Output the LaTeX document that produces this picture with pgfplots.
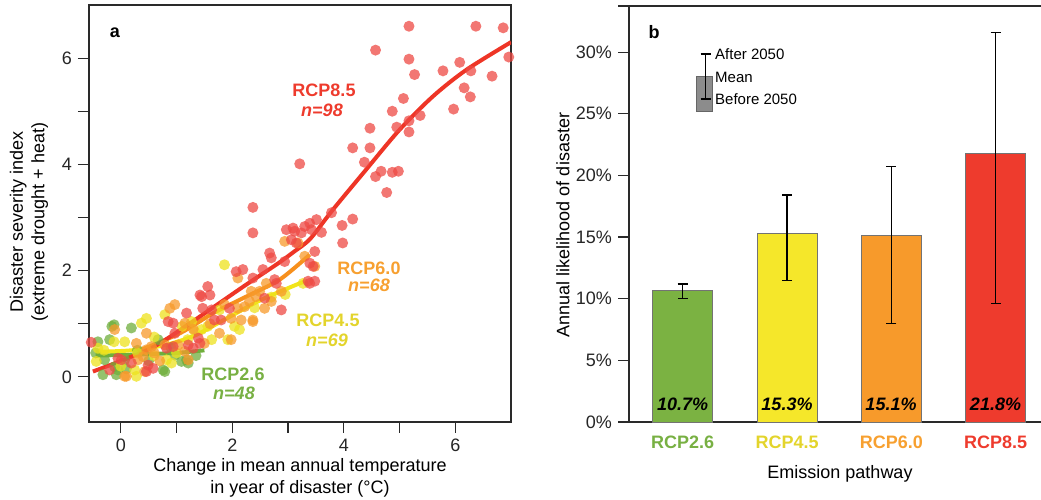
\documentclass[border=0pt]{standalone}
\usepackage{pgfplots}
\pgfplotsset{compat=1.18}
\usepackage{fontspec}
\setmainfont{Liberation Sans}
\definecolor{axc}{HTML}{2A2A2A}
\definecolor{bgreen}{HTML}{7BB242}
\definecolor{byellow}{HTML}{F5E72A}
\definecolor{borange}{HTML}{F79A2B}
\definecolor{bred}{HTML}{EE3B2D}
\definecolor{tgreen}{HTML}{78B043}
\definecolor{tyellow}{HTML}{E3D42C}
\definecolor{torange}{HTML}{F7A030}
\definecolor{tred}{HTML}{EE3B2D}
\definecolor{pgreen}{HTML}{6FAE3C}
\definecolor{pyellow}{HTML}{EDE21E}
\definecolor{porange}{HTML}{F79A2B}
\definecolor{pred}{HTML}{EE4A44}
\definecolor{lgreen}{HTML}{6FAE3C}
\definecolor{lyellow}{HTML}{F2E51A}
\definecolor{lorange}{HTML}{F7901D}
\definecolor{lred}{HTML}{EE3526}
\begin{document}
\fontsize{18}{21.6}\selectfont
\begin{tikzpicture}
\useasboundingbox (0,0) rectangle (1041pt,500pt);
\pgfplotsset{
  every axis/.append style={
    /pgf/number format/assume math mode=true,
    tick label style={font=\fontsize{18}{21.6}\selectfont, text=black!85},
    axis line style={line width=1.2pt, draw=axc},
    every tick/.style={line width=1.2pt, draw=axc},
    tick align=outside,
    major tick length=11pt, minor tick length=11pt,
  }
}
% ---------- panel a ----------
\begin{axis}[
  at={(89pt,78pt)}, anchor=south west, scale only axis,
  width=422pt, height=417pt,
  xmin=-0.57, xmax=7, ymin=-0.85, ymax=7,
  xtick={0,2,4,6}, minor xtick={1,3,5},
  ytick={0,2,4,6}, minor ytick={1,3,5},
  tick pos=left,
  clip=true,
]
\pgfplotsset{pts/.style={only marks, mark=*, mark size=5.5pt, line width=0pt}}
\addplot[pts, color=pgreen, mark options={fill=pgreen, draw opacity=0, fill opacity=0.75}] coordinates {
(-0.12,0.98) (-0.16,0.95) (0.19,0.92) (-0.20,0.70) (-0.41,0.66) (-0.32,0.04) (-0.11,0.19) (-0.05,0.13)
(0.76,0.13) (0.67,0.70) (0.97,0.41) (1.09,0.29) (-0.29,0.32) (0.07,0.32) (1.18,0.32) (1.21,0.26)
(0.79,0.10) (-0.08,0.04) (0.50,0.30) (0.30,0.50) (-0.45,0.45) (0.90,0.55) (0.10,0.15) (1.35,0.40)
};
\addplot[pts, color=pyellow, mark options={fill=pyellow, draw opacity=0, fill opacity=0.75}] coordinates {
(-0.41,0.54) (-0.44,0.29) (-0.12,0.66) (0.07,0.66) (0.37,1.01) (0.46,1.10) (0.28,0.01) (0.25,0.13)
(0.82,0.32) (0.91,0.26) (0.79,1.17) (1.27,1.04) (1.33,0.85) (1.86,2.11) (1.77,1.26) (2.04,0.95)
(2.13,0.89) (1.56,0.95) (1.45,0.89) (1.63,0.70) (1.92,0.70) (3.27,1.76) (0.60,0.40) (1.00,0.45)
(0.30,0.45) (-0.30,0.50) (2.40,1.30) (2.70,1.50) (0.00,0.20) (1.20,0.70) (0.60,0.75) (2.95,1.55)
(1.10,0.95)
};
\addplot[pts, color=porange, mark options={fill=porange, draw opacity=0, fill opacity=0.75}] coordinates {
(-0.11,0.89) (0.10,0.01) (0.07,0.01) (0.43,0.10) (0.31,0.32) (0.40,0.38) (0.28,0.63) (0.46,0.51)
(0.55,0.57) (0.79,0.60) (0.46,0.82) (0.88,1.29) (0.97,1.36) (1.15,1.01) (1.03,0.60) (1.15,0.48)
(1.21,0.32) (1.50,0.63) (1.77,0.82) (1.98,1.10) (2.16,1.07) (2.37,1.07) (2.10,1.29) (1.86,1.36)
(2.10,1.86) (2.61,1.76) (2.88,1.61) (2.34,1.61) (2.49,1.61) (2.43,1.51) (2.70,1.42) (2.58,1.29)
(2.31,1.42) (2.22,1.32) (2.94,2.55) (3.30,2.27) (3.48,2.08) (3.18,2.52) (2.37,1.04) (1.98,0.70)
(0.70,0.30) (0.60,0.45) (1.30,0.90) (1.60,1.00)
};
\addplot[pts, color=pred, mark options={fill=pred, draw opacity=0, fill opacity=0.75}] coordinates {
(-0.53,0.65) (-0.20,0.13) (-0.05,0.35) (0.01,0.32) (0.19,0.26) (0.46,0.10) (0.58,0.16) (0.49,0.22)
(0.82,0.54) (0.94,0.57) (0.85,1.04) (0.94,1.01) (0.97,0.82) (1.18,1.20) (1.21,0.60) (1.30,0.54)
(1.42,1.54) (1.39,0.73) (1.42,0.63) (1.56,1.70) (1.60,1.54) (1.45,1.51) (1.47,1.29) (1.63,1.26)
(1.95,1.29) (1.68,1.07) (1.80,1.07) (2.07,1.98) (2.19,2.02) (2.37,1.86) (2.55,2.02) (2.76,1.83)
(2.79,1.76) (2.58,1.48) (2.88,1.26) (2.37,2.71) (2.37,3.19) (2.97,2.77) (3.12,2.74) (3.24,2.71)
(3.39,2.89) (3.42,2.77) (3.15,2.52) (3.06,2.58) (3.39,2.14) (3.45,2.08) (3.48,2.36) (2.67,2.33)
(2.70,2.24) (2.94,2.17) (3.36,1.80) (3.48,1.80) (3.39,1.76) (3.09,2.80) (3.30,2.83) (3.51,2.96)
(3.60,2.72) (3.78,3.09) (4.16,2.97) (3.97,2.85) (3.98,2.52) (3.21,4.01) (4.57,6.15) (5.17,5.98)
(5.27,5.69) (5.78,5.76) (6.08,5.92) (6.28,5.76) (6.66,5.66) (6.96,6.02) (6.16,5.44) (6.27,5.27)
(5.97,5.04) (5.07,5.24) (4.87,5.00) (5.37,4.92) (5.17,4.82) (4.95,4.70) (5.17,4.61) (4.47,4.68)
(4.16,4.31) (4.47,4.31) (4.37,4.04) (4.67,3.87) (4.57,3.77) (4.87,3.85) (4.98,3.87) (4.77,3.47)
(5.17,6.60) (6.37,6.60) (6.86,6.57)
};
% fitted curves
\addplot[lgreen, line width=4pt, smooth] coordinates {(-0.45,0.40) (0.3,0.42) (1.0,0.45) (1.5,0.5)};
\addplot[lyellow, line width=4pt, smooth] coordinates {(-0.45,0.47) (0.2,0.50) (0.8,0.60) (1.33,0.78) (1.9,1.10) (2.52,1.45) (3.3,1.80)};
\addplot[lorange, line width=4pt, smooth] coordinates {(0.3,0.48) (1.06,0.82) (1.66,1.20) (2.25,1.51) (2.85,1.83) (3.39,2.30)};
\addplot[lred, line width=4pt, smooth] coordinates {(-0.5,0.10) (0,0.30) (0.6,0.57) (1.3,1.05) (2.2,1.70) (2.8,2.12) (3.1,2.35) (3.4,2.60) (3.8,3.14) (4.4,3.90) (5.0,4.65) (5.6,5.28) (6.2,5.78) (7.0,6.30)};
\end{axis}
% ---------- panel b ----------
\begin{axis}[
  at={(629pt,78pt)}, anchor=south west, scale only axis,
  width=412pt, height=416pt,
  xmin=-0.515, xmax=3.435, ymin=0, ymax=33.74,
  axis x line*=box, axis y line*=left,
  axis line style={-},
  xtick={0,1,2,3},
  xticklabels={\textcolor{tgreen}{\textbf{RCP2.6}},\textcolor{tyellow}{\textbf{RCP4.5}},\textcolor{torange}{\textbf{RCP6.0}},\textcolor{tred}{\textbf{RCP8.5}}},
  x tick style={draw=none},
  xticklabel style={yshift=3pt},
  ytick={0,5,10,15,20,25,30},
  yticklabels={0\%,5\%,10\%,15\%,20\%,25\%,30\%},
  ytick pos=left,
  clip=false,
]
\pgfplotsset{bb/.style={ybar, bar width=60pt, bar shift=0pt, draw=black!55, line width=0.8pt,
  /pgfplots/error bars/y dir=both, /pgfplots/error bars/y explicit,
  /pgfplots/error bars/error bar style={line width=1.4pt, black},
  /pgfplots/error bars/error mark options={rotate=90, mark size=5pt, line width=1.4pt, black}}}
\addplot[bb, fill=bgreen] coordinates {(0,10.7) += (0,0.5) -= (0,0.7)};
\addplot[bb, fill=byellow] coordinates {(1,15.3) += (0,3.1) -= (0,3.8)};
\addplot[bb, fill=borange] coordinates {(2,15.1) += (0,5.6) -= (0,7.1)};
\addplot[bb, fill=bred] coordinates {(3,21.8) += (0,9.8) -= (0,12.2)};
\end{axis}
\draw[line width=1.2pt, axc] (618pt,494pt) -- (629pt,494pt);
% ---------- texts ----------
\node[rotate=90, align=center] at (29pt,278pt) {Disaster severity index\\(extreme drought + heat)};
\node[align=center] at (300pt,22pt) {Change in mean annual temperature\\in year of disaster (°C)};
\node[font=\fontsize{18}{21.6}\selectfont\bfseries] at (115pt,467pt) {a};
\node[font=\fontsize{18}{21.6}\selectfont\bfseries] at (654pt,468pt) {b};
\node[text=tred, font=\bfseries] at (324pt,410pt) {RCP8.5};
\node[text=tred, font=\bfseries\itshape] at (322pt,390pt) {n=98};
\node[text=torange, font=\bfseries] at (369pt,232pt) {RCP6.0};
\node[text=torange, font=\bfseries\itshape] at (369pt,215pt) {n=68};
\node[text=tyellow, font=\bfseries] at (328pt,180pt) {RCP4.5};
\node[text=tyellow, font=\bfseries\itshape] at (327pt,160pt) {n=69};
\node[text=tgreen, font=\bfseries] at (233pt,126pt) {RCP2.6};
\node[text=tgreen, font=\bfseries\itshape] at (234pt,107pt) {n=48};
\node[rotate=90] at (563pt,275pt) {Annual likelihood of disaster};
\node at (840pt,26pt) {Emission pathway};
\foreach \xx/\tt in {682.7/10.7, 787/15.3, 891/15.1, 995.5/21.8}
  \node[font=\bfseries\itshape] at (\xx pt,96pt) {\tt\%};
% legend of panel b
\fill[black!45, draw=black!60, line width=0.6pt] (696.7pt,388.3pt) rectangle (712.7pt,423.3pt);
\draw[line width=1.4pt, black] (705.7pt,446pt) -- (705.7pt,401pt);
\draw[line width=1.4pt, black] (700.7pt,446pt) -- (710.7pt,446pt);
\draw[line width=1.4pt, black] (700.7pt,401pt) -- (710.7pt,401pt);
\begin{scope}[every node/.style={anchor=west, font=\fontsize{15}{18}\selectfont, inner sep=0pt}]
\node at (715pt,446pt) {After 2050};
\node at (715pt,423pt) {Mean};
\node at (715pt,401pt) {Before 2050};
\end{scope}
\end{tikzpicture}
\end{document}
